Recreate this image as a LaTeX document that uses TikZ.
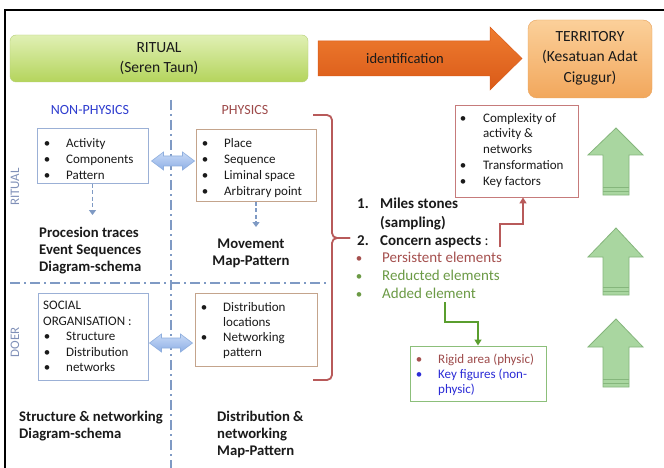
\documentclass[tikz,border=0pt]{standalone}
\usepackage{fontspec}
\setmainfont{Carlito}
\usetikzlibrary{arrows.meta,fit}
\definecolor{txtc}{HTML}{1A1A1A}
\definecolor{ritA}{HTML}{E0F0B4}
\definecolor{ritB}{HTML}{B4D45C}
\definecolor{ritD}{HTML}{B5CF78}
\definecolor{orA}{HTML}{EE7C30}
\definecolor{orB}{HTML}{DA5A18}
\definecolor{terA}{HTML}{FBD09A}
\definecolor{terB}{HTML}{F2A75C}
\definecolor{terD}{HTML}{E8A25A}
\definecolor{npblue}{HTML}{2E3CCF}
\definecolor{phred}{HTML}{9E4B4B}
\definecolor{dashc}{HTML}{7F9AC4}
\definecolor{npbox}{HTML}{9BB0D6}
\definecolor{phbox}{HTML}{C4A48C}
\definecolor{bracec}{HTML}{B85A5A}
\definecolor{persc}{HTML}{A5504E}
\definecolor{greent}{HTML}{6B9A45}
\definecolor{gboxc}{HTML}{8CBF7A}
\definecolor{gconn}{HTML}{5A9E2E}
\definecolor{upfill}{HTML}{A9D6A0}
\definecolor{updraw}{HTML}{85B67C}
\definecolor{sidec}{HTML}{8090B8}
\definecolor{biA}{HTML}{C8DAF6}
\definecolor{biB}{HTML}{8EAFE6}
\definecolor{biD}{HTML}{8EAEDE}
\definecolor{keyblue}{HTML}{2C2CD6}
\tikzset{
  tb/.style={inner sep=0, anchor=base west, text=txtc},
  bl/.style={inner sep=0, anchor=base, text=txtc},
  f13/.style={font=\fontsize{13}{16}\selectfont},
  f15/.style={font=\fontsize{15}{18}\selectfont},
  f15b/.style={font=\fontsize{15}{18}\selectfont\bfseries},
  f14b/.style={font=\fontsize{14.7}{18}\selectfont\bfseries},
  ttl/.style={inner sep=0, align=center, text=txtc, font=\fontsize{15.5}{20.5}\selectfont},
  ritbox/.style={inner sep=0, rounded corners=6pt, draw=ritD, top color=ritA, bottom color=ritB},
  terbox/.style={inner sep=0, rounded corners=9pt, draw=terD, top color=terA, bottom color=terB},
  npboxs/.style={inner sep=0, draw=npbox, line width=1pt},
  phboxs/.style={inner sep=0, draw=phbox, line width=1pt},
  cboxs/.style={inner sep=0, draw=bracec!80, line width=0.9pt},
  gboxs/.style={inner sep=0, draw=gboxc, line width=1pt},
  dashdot/.style={dashc, line width=1.3pt, dash pattern=on 10pt off 4pt on 2pt off 4pt},
  dasharr/.style={dashc, line width=1.3pt, dash pattern=on 4pt off 2.5pt, -{Triangle[width=7pt,length=5pt]}},
  biarrow/.style={draw=biD, line width=0.6pt, top color=biA, bottom color=biB},
  uparrow/.style={draw=updraw, line width=0.8pt, fill=upfill},
  bracep/.style={bracec, line width=1.8pt, rounded corners=5pt},
  redconn/.style={bracec, line width=1.5pt, -{Triangle[width=7pt,length=6pt]}},
  greenconn/.style={gconn, line width=1.5pt, -{Triangle[width=7pt,length=6pt]}},
}
\newcommand{\bidir}[2]{%
  \path[biarrow] (#1-21.5,#2) -- (#1-9.5,#2-9) -- (#1-9.5,#2-5) -- (#1+9.5,#2-5) -- (#1+9.5,#2-9)
   -- (#1+21.5,#2) -- (#1+9.5,#2+9) -- (#1+9.5,#2+5) -- (#1-9.5,#2+5) -- (#1-9.5,#2+9) -- cycle;}
\newcommand{\uparr}[3]{% tip, base, bottom
  \path[uparrow] (616,#1) -- (643,#2) -- (629,#2) -- (629,#3) -- (603,#3) -- (603,#2) -- (588,#2) -- cycle;
  \draw[updraw, line width=0.8pt] (603,#3-8) -- (629,#3-8) (603,#3-4) -- (629,#3-4);}
\begin{document}
\begin{tikzpicture}[x=1pt,y=-1pt]
\useasboundingbox (0,0) rectangle (664,468);
\fill[white] (0,0) rectangle (664,468);
\draw[black, line width=1.2pt] (5,468) -- (5,10) -- (664,10);

% top row
\node[ritbox, fit={(10,35)(308,82)}] (rit) {};
\node[ttl] (ritt) at (rit.center) {RITUAL\\(Seren Taun)};
\path[top color=orA, bottom color=orB, draw=orB, line width=0.5pt]
  (318,41) -- (490,41) -- (490,27) -- (522,58.5) -- (490,90) -- (490,76) -- (318,76) -- cycle;
\node[inner sep=0, text=txtc, font=\fontsize{14.5}{18}\selectfont] (ident) at (405,58.5) {identification};
\node[terbox, fit={(528,20)(652,98)}] (ter) {};
\node[ttl] (tert) at (590,58) {TERRITORY\\(Kesatuan Adat\\Cigugur)};

% headers
\node[inner sep=0, anchor=base, text=npblue, font=\fontsize{14}{17}\selectfont] (nph) at (90,115) {NON-PHYSICS};
\node[inner sep=0, anchor=base, text=phred, font=\fontsize{14}{17}\selectfont] (phh) at (245,115) {PHYSICS};

% dash-dot separators
\draw[dashdot] (171,100) -- (171,468);
\draw[dashdot] (10,283) -- (326,283);
\node[inner sep=0, rotate=90, text=sidec, font=\fontsize{13}{16}\selectfont] (sideR) at (15,187) {RITUAL};
\node[inner sep=0, rotate=90, text=sidec, font=\fontsize{13}{16}\selectfont] (sideD) at (15,342) {DOER};

% non-physics ritual box
\node[npboxs, fit={(37,129)(148,183)}] (npb) {};
\node[bl,f13] (b1) at (47,147.5) {\textbullet};
\node[tb,f13] (t1) at (66,147.5) {Activity};
\node[bl,f13] (b2) at (47,163.5) {\textbullet};
\node[tb,f13] (t2) at (66,163.5) {Components};
\node[bl,f13] (b3) at (47,179) {\textbullet};
\node[tb,f13] (t3) at (66,179) {Pattern};
\coordinate (npend) at (npb.south |- 0,215);
\draw[dasharr] (npb.south) -- (npend);
\node[tb,f14b] (pr1) at (39,237) {Procesion traces};
\node[tb,f14b] (pr2) at (39,254) {Event Sequences};
\node[tb,f14b] (pr3) at (39,271.5) {Diagram-schema};

% physics ritual box
\node[phboxs, fit={(196,130)(316,201)}] (phb) {};
\node[bl,f13] (pb1) at (205,147.5) {\textbullet};
\node[tb,f13] (pt1) at (224,147.5) {Place};
\node[bl,f13] (pb2) at (205,163.5) {\textbullet};
\node[tb,f13] (pt2) at (224,163.5) {Sequence};
\node[bl,f13] (pb3) at (205,179.5) {\textbullet};
\node[tb,f13] (pt3) at (224,179.5) {Liminal space};
\node[bl,f13] (pb4) at (205,195) {\textbullet};
\node[tb,f13] (pt4) at (224,195) {Arbitrary point};
\coordinate (phend) at (phb.south |- 0,227);
\draw[dasharr] (phb.south) -- (phend);
\node[bl,f14b] (mv1) at (251,248) {Movement};
\node[bl,f14b] (mv2) at (251,265) {Map-Pattern};

\bidir{173}{161}

% doer non-physics
\node[npboxs, fit={(38,293)(148,380)}] (sob) {};
\node[tb,f13] (so1) at (43,309.5) {SOCIAL};
\node[tb,f13] (so2) at (43,325.5) {ORGANISATION :};
\node[bl,f13] (sb3) at (47,340.5) {\textbullet};
\node[tb,f13] (so3) at (66,340.5) {Structure};
\node[bl,f13] (sb4) at (47,356.5) {\textbullet};
\node[tb,f13] (so4) at (66,356.5) {Distribution};
\node[bl,f13] (sb5) at (47,371.5) {\textbullet};
\node[tb,f13] (so5) at (66,371.5) {networks};

% doer physics
\node[phboxs, fit={(195,293)(317,366)}] (dib) {};
\node[bl,f13] (db1) at (204,311.5) {\textbullet};
\node[tb,f13] (dt1) at (223,311.5) {Distribution};
\node[tb,f13] (dt2) at (223,326.5) {locations};
\node[bl,f13] (db3) at (204,341.5) {\textbullet};
\node[tb,f13] (dt3) at (223,341.5) {Networking};
\node[tb,f13] (dt4) at (223,356.5) {pattern};

\bidir{171}{343}

\node[tb,f14b] (sn1) at (19,421) {Structure \& networking};
\node[tb,f14b] (sn2) at (19,438) {Diagram-schema};
\node[tb,f14b] (dn1) at (217,421) {Distribution \&};
\node[tb,f14b] (dn2) at (217,438) {networking};
\node[tb,f14b] (dn3) at (217,455.5) {Map-Pattern};

% brace
\draw[bracep] (313,115) -- (332,115) -- (332,238) -- (350,238);
\draw[bracep] (313,380) -- (332,380) -- (332,238) -- (350,238);

% right list
\node[tb,f15b] (n1) at (357,208) {1.};
\node[tb,f15b] (ms1) at (380,208) {Miles stones};
\node[tb,f15b] (ms2) at (380,227) {(sampling)};
\node[tb,f15b] (n2) at (357,245) {2.};
\node[tb,f15] (ca) at (380,245) {\textbf{Concern aspects} :};
\node[bl,f13,text=persc] (lb1) at (359,262) {\textbullet};
\node[tb,f15,text=persc] (pe) at (382,262) {Persistent elements};
\node[bl,f13,text=greent] (lb2) at (359,280) {\textbullet};
\node[tb,f15,text=greent] (re) at (382,280) {Reducted elements};
\node[bl,f13,text=greent] (lb3) at (359,298) {\textbullet};
\node[tb,f15,text=greent] (ae) at (382,298) {Added element};

% complexity box
\node[cboxs, fit={(455,105)(578,197)}] (cb) {};
\node[bl,f13] (cb1) at (463,122.5) {\textbullet};
\node[tb,f13] (ct1) at (483,122.5) {Complexity of};
\node[tb,f13] (ct2) at (483,138) {activity \&};
\node[tb,f13] (ct3) at (483,153.5) {networks};
\node[bl,f13] (cb4) at (463,169.5) {\textbullet};
\node[tb,f13] (ct4) at (483,169.5) {Transformation};
\node[bl,f13] (cb5) at (463,185.5) {\textbullet};
\node[tb,f13] (ct5) at (483,185.5) {Key factors};

\coordinate (rstart) at (500,247);
\coordinate (rturn) at (523,224);
\draw[redconn] (rstart) |- (rturn) -- (rturn |- cb.south);

% green box
\node[gboxs, fit={(410,346)(546,401)}] (gb) {};
\node[bl,f13,text=persc] (gb1) at (419,363.5) {\textbullet};
\node[tb,f13,text=phred] (gt1) at (438,363.5) {Rigid area (physic)};
\node[bl,f13,text=keyblue] (gb2) at (419,378.5) {\textbullet};
\node[tb,f13,text=keyblue] (gt2) at (438,378.5) {Key figures (non-};
\node[tb,f13,text=keyblue] (gt3) at (438,393.5) {physic)};

\coordinate (gstart) at (445,302);
\coordinate (gturn) at (478,322);
\draw[greenconn] (gstart) |- (gturn) -- (gturn |- gb.north);

% up arrows
\uparr{128}{155}{195}
\uparr{228}{257}{295}
\uparr{319}{347}{387}
\end{tikzpicture}
\end{document}
